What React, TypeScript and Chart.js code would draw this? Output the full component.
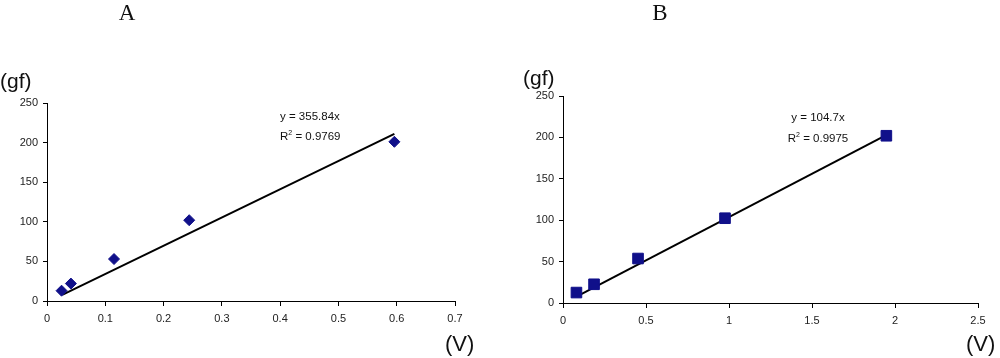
import React, { useEffect, useRef } from "react";
import { Chart, registerables } from "chart.js";
Chart.register(...registerables);

// Panel A data
const voltageA = [0.025, 0.041, 0.115, 0.244, 0.596];
const forceA = [13, 22, 53, 102, 201];
const trendVoltageA = [0.027, 0.596];
const trendForceA = [8, 211];
const xTicksA = [0, 0.1, 0.2, 0.3, 0.4, 0.5, 0.6, 0.7];
const xTickLabelsA = ["0", "0.1", "0.2", "0.3", "0.4", "0.5", "0.6", "0.7"];

// Panel B data
const voltageB = [0.081, 0.187, 0.452, 0.976, 1.948];
const forceB = [12.6, 22.6, 53.7, 102.4, 202];
const trendVoltageB = [0.084, 1.958];
const trendForceB = [8.1, 204];
const xTicksB = [0, 0.5, 1, 1.5, 2, 2.5];
const xTickLabelsB = ["0", "0.5", "1", "1.5", "2", "2.5"];

// Shared y axis
const yTicks = [0, 50, 100, 150, 200, 250];
const yTickLabels = ["0", "50", "100", "150", "200", "250"];

const MARKER = "#10108a";
const TICK_FONT = { family: "'Liberation Sans', Arial, sans-serif", size: 11 };

type Panel = {
  xs: number[];
  ys: number[];
  txs: number[];
  tys: number[];
  xTicks: number[];
  xLabels: string[];
  pointStyle: string;
  radius: number;
  yWidth: number;
  xHeight: number;
  padding: { left: number; right: number; top: number; bottom: number };
};

function makeConfig(p: Panel): any {
  return {
    type: "scatter",
    data: {
      datasets: [
        {
          type: "scatter",
          data: p.xs.map((x, i) => ({ x, y: p.ys[i] })),
          backgroundColor: MARKER,
          borderColor: MARKER,
          borderWidth: 1,
          pointStyle: p.pointStyle,
          pointRadius: p.radius,
          order: 0,
        },
        {
          type: "line",
          data: p.txs.map((x, i) => ({ x, y: p.tys[i] })),
          borderColor: "#000",
          borderWidth: 2,
          pointRadius: 0,
          showLine: true,
          fill: false,
          order: 1,
        },
      ],
    },
    options: {
      responsive: false,
      animation: false,
      devicePixelRatio: 1,
      layout: { padding: p.padding },
      plugins: { legend: { display: false }, tooltip: { enabled: false } },
      scales: {
        x: {
          type: "linear",
          min: p.xTicks[0],
          max: p.xTicks[p.xTicks.length - 1],
          afterBuildTicks: (axis: any) => {
            axis.ticks = p.xTicks.map((v) => ({ value: v }));
          },
          afterFit: (axis: any) => {
            axis.height = p.xHeight;
          },
          border: { display: true, color: "#000", width: 1 },
          grid: { drawOnChartArea: false, drawTicks: true, tickLength: 5, color: "#000" },
          ticks: {
            autoSkip: false,
            maxRotation: 0,
            padding: 6,
            color: "#222",
            font: TICK_FONT,
            callback: (_v: any, i: number) => p.xLabels[i],
          },
        },
        y: {
          type: "linear",
          min: yTicks[0],
          max: yTicks[yTicks.length - 1],
          afterBuildTicks: (axis: any) => {
            axis.ticks = yTicks.map((v) => ({ value: v }));
          },
          afterFit: (axis: any) => {
            axis.width = p.yWidth;
          },
          border: { display: true, color: "#000", width: 1 },
          grid: { drawOnChartArea: false, drawTicks: true, tickLength: 4, color: "#000" },
          ticks: {
            autoSkip: false,
            padding: 5,
            color: "#222",
            font: TICK_FONT,
            callback: (_v: any, i: number) => yTickLabels[i],
          },
        },
      },
    },
  };
}

function ChartCanvas({ panel, left, width }: { panel: Panel; left: number; width: number }) {
  const ref = useRef<HTMLCanvasElement | null>(null);
  useEffect(() => {
    if (!ref.current) return;
    const chart = new Chart(ref.current, makeConfig(panel));
    return () => chart.destroy();
  }, []);
  return (
    <canvas
      ref={ref}
      width={width}
      height={358}
      style={{ position: "absolute", left, top: 0, width, height: 358 }}
    />
  );
}

const panelA: Panel = {
  xs: voltageA,
  ys: forceA,
  txs: trendVoltageA,
  tys: trendForceA,
  xTicks: xTicksA,
  xLabels: xTickLabelsA,
  pointStyle: "rectRot",
  radius: 5.5,
  yWidth: 47,
  xHeight: 30,
  padding: { left: 0, right: 35, top: 103, bottom: 27 },
};

const panelB: Panel = {
  xs: voltageB,
  ys: forceB,
  txs: trendVoltageB,
  tys: trendForceB,
  xTicks: xTicksB,
  xLabels: xTickLabelsB,
  pointStyle: "rect",
  radius: 7.5,
  yWidth: 63,
  xHeight: 30,
  padding: { left: 0, right: 22, top: 96, bottom: 25 },
};

const sans = "'Liberation Sans', Arial, sans-serif";
const serif = "'Liberation Serif', 'Times New Roman', serif";

function Txt({ x, y, size, family, children, align }: any) {
  return (
    <div
      style={{
        position: "absolute",
        left: x,
        top: y,
        fontSize: size,
        fontFamily: family,
        lineHeight: 1,
        whiteSpace: "nowrap",
        color: "#111",
        transform: align === "center" ? "translateX(-50%)" : undefined,
      }}
    >
      {children}
    </div>
  );
}

export default function App() {
  return (
    <div
      style={{
        position: "fixed",
        left: 0,
        top: 0,
        width: 1000,
        height: 358,
        background: "#fff",
        overflow: "hidden",
      }}
    >
      <ChartCanvas panel={panelA} left={0} width={490} />
      <ChartCanvas panel={panelB} left={500} width={500} />
      <Txt x={127} y={1} size={23} family={serif} align="center">A</Txt>
      <Txt x={660} y={1} size={23} family={serif} align="center">B</Txt>
      <Txt x={0} y={70} size={21} family={sans}>(gf)</Txt>
      <Txt x={523} y={67} size={21} family={sans}>(gf)</Txt>
      <Txt x={445} y={333} size={22} family={sans}>(V)</Txt>
      <Txt x={966} y={333} size={22} family={sans}>(V)</Txt>
      <Txt x={280} y={111} size={11.5} family={sans}>y = 355.84x</Txt>
      <Txt x={280} y={129} size={11.5} family={sans}>
        R<sup style={{ fontSize: 7, verticalAlign: 5 }}>2</sup> = 0.9769
      </Txt>
      <Txt x={818} y={112} size={11.5} family={sans} align="center">y = 104.7x</Txt>
      <Txt x={818} y={131} size={11.5} family={sans} align="center">
        R<sup style={{ fontSize: 7, verticalAlign: 5 }}>2</sup> = 0.9975
      </Txt>
    </div>
  );
}
